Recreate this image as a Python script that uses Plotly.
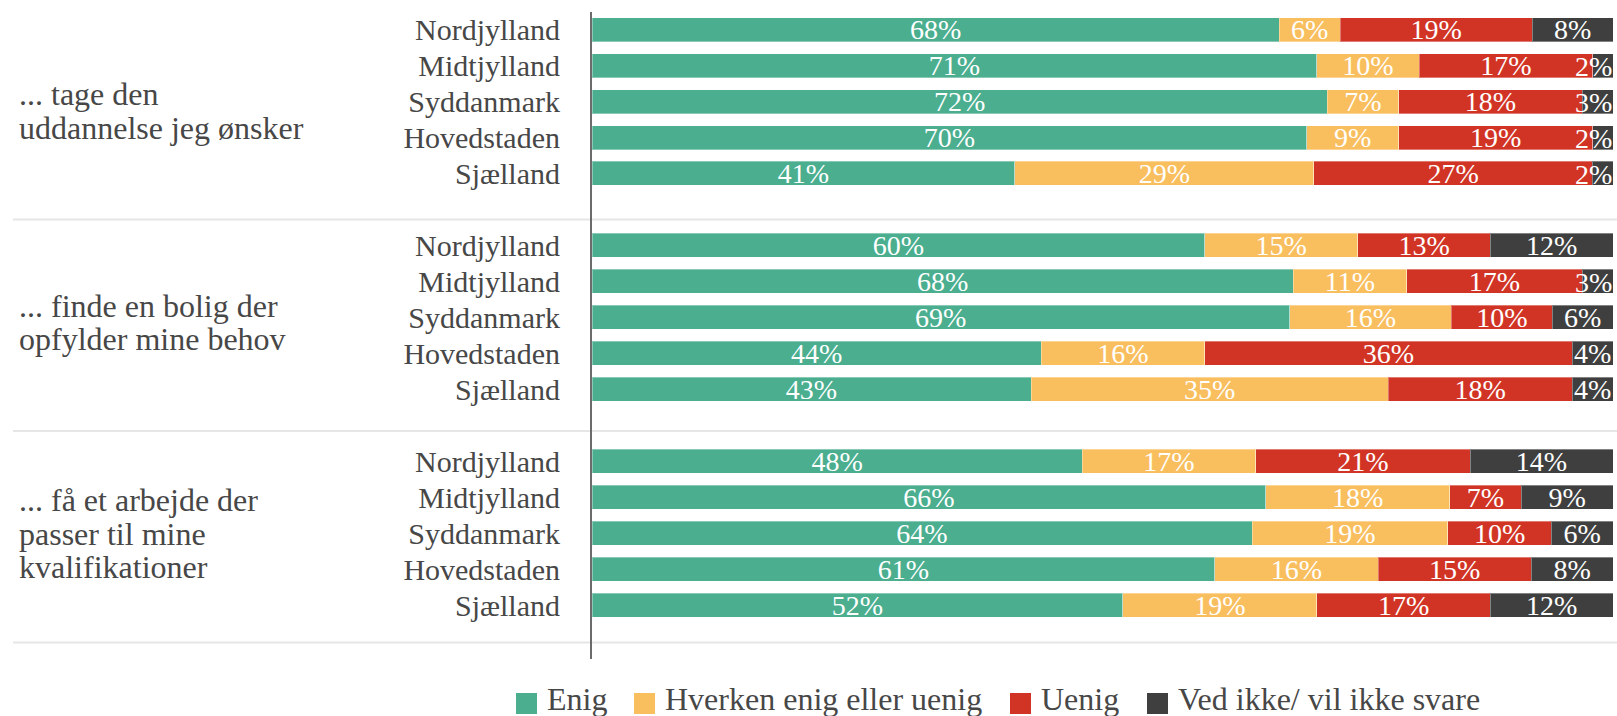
import plotly.graph_objects as go

# ---- data -------------------------------------------------------------
regions = ["Nordjylland", "Midtjylland", "Syddanmark", "Hovedstaden", "Sjælland"]

group_labels = [
    ["... tage den", "uddannelse jeg ønsker"],
    ["... finde en bolig der", "opfylder mine behov"],
    ["... få et arbejde der", "passer til mine", "kvalifikationer"],
]

# one value per region, groups in order (5 regions x 3 statements)
enig = [68, 71, 72, 70, 41,
        60, 68, 69, 44, 43,
        48, 66, 64, 61, 52]
hverken = [6, 10, 7, 9, 29,
           15, 11, 16, 16, 35,
           17, 18, 19, 16, 19]
uenig = [19, 17, 18, 19, 27,
         13, 17, 10, 36, 18,
         21, 7, 10, 15, 17]
ved_ikke = [8, 2, 3, 2, 2,
            12, 3, 6, 4, 4,
            14, 9, 6, 8, 12]

series_names = ["Enig", "Hverken enig eller uenig", "Uenig", "Ved ikke/ vil ikke svare"]
series_colors = ["#4aae8f", "#f9be5e", "#d13425", "#3f3f3f"]

# ---- layout constants -------------------------------------------------
W, H = 1617, 716
M_L, M_R, M_T, M_B = 592, 4, 12, 57
PLOT_W = W - M_L - M_R
PLOT_H = H - M_T - M_B
FONT = "Liberation Serif"
TEXT_COLOR = "#474747"
ROWS_PER_GROUP = 6
SEPARATOR_ROWS = [5.28, 11.16, 17.04]
GROUP_SPAN = 5.88
LINE_STEP = 0.93  # rows between lines of a group label
LABEL_LIFT = 0.08


def px_x(px):
    return (px - M_L) / PLOT_W


def px_y(py):
    return 1 - (py - M_T) / PLOT_H


n_groups = len(group_labels)
ypos = [g * ROWS_PER_GROUP + r for g in range(n_groups) for r in range(len(regions))]
ticktext = [regions[r] for g in range(n_groups) for r in range(len(regions))]

fig = go.Figure()
all_series = [enig, hverken, uenig, ved_ikke]
last = len(all_series) - 1
for i, (name, vals, color) in enumerate(zip(series_names, all_series, series_colors)):
    texts = [f"{v}%" if (i != last or v >= 4) else "" for v in vals]
    fig.add_trace(go.Bar(
        x=vals, y=ypos, orientation="h", name=name,
        marker=dict(color=color, line=dict(color="rgba(255,255,255,0.35)", width=1)),
        text=texts, textposition="inside", insidetextanchor="middle",
        constraintext="none",
        textfont=dict(family=FONT, size=28, color="white"),
        showlegend=False, hoverinfo="x+y+name",
    ))

annotations = []
shapes = []

# labels of the narrow segments at the right end, kept inside the plot
for v, y in zip(ved_ikke, ypos):
    if v < 4:
        annotations.append(dict(
            x=100, y=y, xref="x", yref="y", text=f"{v}%", showarrow=False,
            xanchor="right", yanchor="middle", xshift=1, yshift=-1,
            font=dict(family=FONT, size=28, color="white"),
        ))

# group labels on the left, centred between separators
for g, lines in enumerate(group_labels):
    center = SEPARATOR_ROWS[g] - GROUP_SPAN / 2 - LABEL_LIFT
    n = len(lines)
    for k, line in enumerate(lines):
        annotations.append(dict(
            x=px_x(17), y=center + (k - (n - 1) / 2) * LINE_STEP,
            xref="paper", yref="y", text=line, showarrow=False,
            xanchor="left", yanchor="middle",
            font=dict(family=FONT, size=32, color=TEXT_COLOR),
        ))

# horizontal separators between the statements
for s in SEPARATOR_ROWS:
    shapes.append(dict(
        type="line", xref="paper", yref="y",
        x0=px_x(13), x1=px_x(W), y0=s, y1=s,
        line=dict(color="#e6e6e6", width=2), layer="below",
    ))

# legend row
legend_px = [516, 634, 1010, 1147]
for px, name, color in zip(legend_px, series_names, series_colors):
    shapes.append(dict(
        type="rect", xref="paper", yref="paper",
        x0=px_x(px), x1=px_x(px + 21), y0=px_y(714), y1=px_y(693),
        fillcolor=color, line=dict(width=0),
    ))
    annotations.append(dict(
        x=px_x(px + 29), y=px_y(699), xref="paper", yref="paper",
        text=name, showarrow=False, xanchor="left", yanchor="middle",
        font=dict(family=FONT, size=32, color=TEXT_COLOR),
    ))

fig.update_layout(
    width=W, height=H,
    margin=dict(l=M_L, r=M_R, t=M_T, b=M_B, pad=0),
    barmode="stack", barnorm="percent", bargap=1 / 3,
    paper_bgcolor="white", plot_bgcolor="white",
    showlegend=False,
    font=dict(family=FONT, color=TEXT_COLOR),
    annotations=annotations, shapes=shapes,
    xaxis=dict(range=[0, 100], visible=False, fixedrange=True),
    yaxis=dict(
        range=[17.5, -0.49], tickvals=ypos, ticktext=ticktext,
        ticks="", ticklabelstandoff=24, showgrid=False, zeroline=False,
        showline=True, linecolor="#6b6b6b", linewidth=2,
        tickfont=dict(family=FONT, size=30, color=TEXT_COLOR),
        fixedrange=True,
    ),
)

fig.write_html("out.html", config={"displayModeBar": False})
